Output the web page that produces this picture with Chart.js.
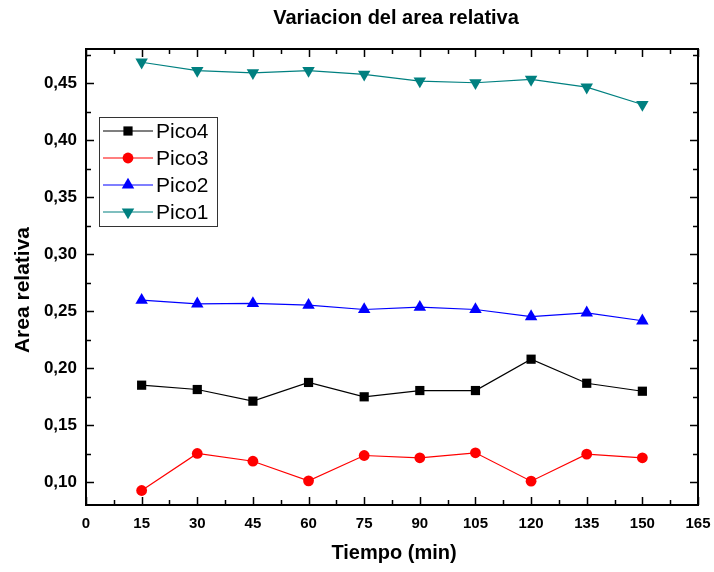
<!DOCTYPE html>
<html>
<head>
<meta charset="utf-8">
<script src="https://cdn.jsdelivr.net/npm/chart.js@4.4.1/dist/chart.umd.min.js"></script>
<style>
  html, body { margin: 0; padding: 0; background: #ffffff; }
  #wrap { width: 714px; height: 572px; position: relative; }
</style>
</head>
<body>
<div id="wrap"><canvas id="c" width="714" height="572"></canvas></div>
<script>
// Measurement times (minutes)
const tiempo = [15, 30, 45, 60, 75, 90, 105, 120, 135, 150];

// Relative area of each peak
const pico4 = [0.1851, 0.1813, 0.1711, 0.1875, 0.1749, 0.1804, 0.1804, 0.2079, 0.1868, 0.1798];
const pico3 = [0.0927, 0.1252, 0.1184, 0.1012, 0.1234, 0.1214, 0.1258, 0.1009, 0.1246, 0.1214];
const pico2 = [0.2597, 0.2565, 0.2568, 0.2553, 0.2515, 0.2535, 0.2515, 0.2453, 0.2486, 0.2416];
const pico1 = [0.4684, 0.4611, 0.4591, 0.4611, 0.4577, 0.4518, 0.4504, 0.4533, 0.4465, 0.4313];

// Axis ticks
const xTicks = [0, 15, 30, 45, 60, 75, 90, 105, 120, 135, 150, 165];
const yTicks = [0.10, 0.15, 0.20, 0.25, 0.30, 0.35, 0.40, 0.45];
const Y_MIN = 0.08, Y_MAX = 0.48;

const titleText = 'Variacion del area relativa';
const xTitle = 'Tiempo (min)';
const yTitle = 'Area relativa';

const FONT = '"Liberation Sans", Arial, Helvetica, sans-serif';

function series(label, values, color, style, rotation, radius) {
  return {
    label,
    data: tiempo.map((t, i) => ({ x: t, y: values[i] })),
    borderColor: color,
    backgroundColor: color,
    borderWidth: 1.2,
    pointStyle: style,
    pointRotation: rotation,
    pointRadius: radius,
    pointHoverRadius: radius,
    pointBackgroundColor: color,
    pointBorderColor: color,
    pointBorderWidth: 0,
    tension: 0,
    fill: false
  };
}

// Frame, inward tick marks, legend box and titles
const decorations = {
  id: 'decorations',
  afterDatasetsDraw(chart) {
    const { ctx, chartArea: a, scales } = chart;
    const xs = scales.x, ys = scales.y;
    ctx.save();
    ctx.strokeStyle = '#000';
    ctx.lineWidth = 1.5;
    ctx.beginPath();
    // x ticks: majors and minors on bottom and top
    xTicks.forEach(v => {
      const px = Math.round(xs.getPixelForValue(v)) + 0.5;
      ctx.moveTo(px, a.bottom); ctx.lineTo(px, a.bottom - 8);
      ctx.moveTo(px, a.top); ctx.lineTo(px, a.top + 8);
    });
    for (let k = 0; k < xTicks.length - 1; k++) {
      const v = (xTicks[k] + xTicks[k + 1]) / 2;
      const px = Math.round(xs.getPixelForValue(v)) + 0.5;
      ctx.moveTo(px, a.bottom); ctx.lineTo(px, a.bottom - 5);
      ctx.moveTo(px, a.top); ctx.lineTo(px, a.top + 5);
    }
    // y ticks: majors and minors on left and right
    const yMinor = yTicks.map(v => v - 0.025)
      .concat([yTicks[yTicks.length - 1] + 0.025])
      .filter(v => v > Y_MIN && v < Y_MAX);
    yTicks.forEach(v => {
      const py = Math.round(ys.getPixelForValue(v)) + 0.5;
      ctx.moveTo(a.left, py); ctx.lineTo(a.left + 8, py);
      ctx.moveTo(a.right, py); ctx.lineTo(a.right - 8, py);
    });
    yMinor.forEach(v => {
      const py = Math.round(ys.getPixelForValue(v)) + 0.5;
      ctx.moveTo(a.left, py); ctx.lineTo(a.left + 5, py);
      ctx.moveTo(a.right, py); ctx.lineTo(a.right - 5, py);
    });
    ctx.stroke();

    // plot frame
    ctx.lineWidth = 2;
    ctx.strokeRect(a.left, a.top, a.right - a.left, a.bottom - a.top);

    // legend
    const lx = 99, ly = 117, lw = 118, lh = 109, row = 27;
    ctx.fillStyle = '#fff';
    ctx.fillRect(lx, ly, lw, lh);
    ctx.lineWidth = 1;
    ctx.strokeStyle = '#333';
    ctx.strokeRect(lx + 0.5, ly + 0.5, lw, lh);
    ctx.font = '21px ' + FONT;
    ctx.textBaseline = 'middle';
    ctx.textAlign = 'left';
    chart.data.datasets.forEach((ds, i) => {
      const cy = ly + 14 + i * row;
      ctx.strokeStyle = ds.borderColor;
      ctx.lineWidth = ds.borderWidth;
      ctx.beginPath();
      ctx.moveTo(lx + 4, cy); ctx.lineTo(lx + 54, cy);
      ctx.stroke();
      ctx.fillStyle = ds.pointBackgroundColor;
      Chart.helpers.drawPoint(ctx, {
        pointStyle: ds.pointStyle,
        rotation: ds.pointRotation,
        radius: ds.pointRadius,
        borderWidth: 0
      }, lx + 29, cy);
      ctx.fillStyle = '#000';
      ctx.fillText(ds.label, lx + 57, cy + 1);
    });

    // titles
    ctx.fillStyle = '#000';
    ctx.textAlign = 'center';
    ctx.textBaseline = 'middle';
    ctx.font = 'bold 20px ' + FONT;
    ctx.fillText(titleText, 396, 18);
    ctx.font = 'bold 20px ' + FONT;
    ctx.fillText(xTitle, 394, 553);
    ctx.save();
    ctx.translate(23, 290);
    ctx.rotate(-Math.PI / 2);
    ctx.font = 'bold 21px ' + FONT;
    ctx.fillText(yTitle, 0, 0);
    ctx.restore();
    ctx.restore();
  }
};

new Chart(document.getElementById('c'), {
  type: 'line',
  data: {
    datasets: [
      series('Pico4', pico4, '#000000', 'rect', 0, 6.5),
      series('Pico3', pico3, '#ff0000', 'circle', 0, 5.4),
      series('Pico2', pico2, '#0000ff', 'triangle', 0, 7.2),
      series('Pico1', pico1, '#008080', 'triangle', 180, 7.2)
    ]
  },
  options: {
    responsive: false,
    animation: false,
    layout: { padding: { left: 0, right: 16, top: 49, bottom: 0 } },
    plugins: { legend: { display: false }, title: { display: false }, tooltip: { enabled: false } },
    scales: {
      x: {
        type: 'linear',
        min: 0,
        max: 165,
        afterBuildTicks: s => { s.ticks = xTicks.map(v => ({ value: v })); },
        afterFit: s => { s.height = 67; s.paddingLeft = 0; s.paddingRight = 0; },
        grid: { display: false, drawTicks: false },
        border: { display: false },
        ticks: {
          autoSkip: false,
          maxRotation: 0,
          padding: 10,
          color: '#000',
          font: { family: FONT, size: 15, weight: 'bold' },
          callback: v => String(v)
        }
      },
      y: {
        type: 'linear',
        min: Y_MIN,
        max: Y_MAX,
        afterBuildTicks: s => { s.ticks = yTicks.map(v => ({ value: v })); },
        afterFit: s => { s.width = 86; s.paddingTop = 0; s.paddingBottom = 0; },
        grid: { display: false, drawTicks: false },
        border: { display: false },
        ticks: {
          padding: 9,
          color: '#000',
          font: { family: FONT, size: 17, weight: 'bold' },
          callback: v => v.toFixed(2).replace('.', ',')
        }
      }
    }
  },
  plugins: [decorations]
});
</script>
</body>
</html>
